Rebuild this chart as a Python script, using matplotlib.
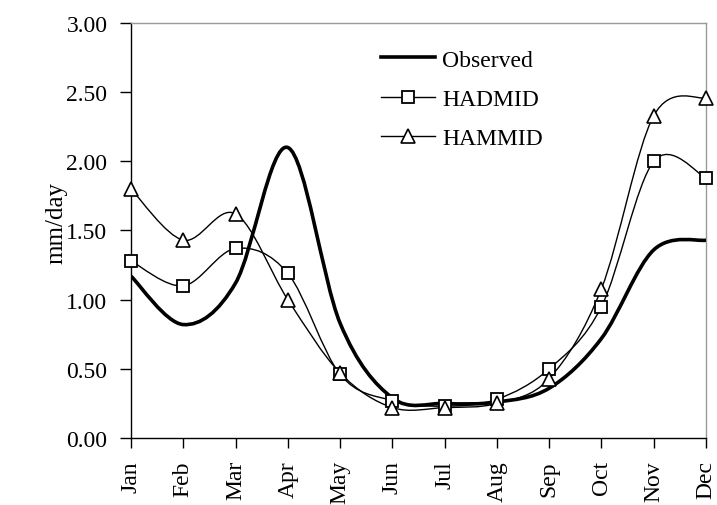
import numpy as np
from matplotlib import pyplot as plt
from matplotlib.path import Path
from matplotlib.patches import PathPatch
from matplotlib.lines import Line2D

months = ["Jan", "Feb", "Mar", "Apr", "May", "Jun",
          "Jul", "Aug", "Sep", "Oct", "Nov", "Dec"]
observed = [1.17, 0.82, 1.12, 2.10, 0.83, 0.29, 0.25, 0.26, 0.36, 0.72, 1.36, 1.43]
hadmid = [1.28, 1.10, 1.37, 1.19, 0.46, 0.27, 0.23, 0.28, 0.50, 0.95, 2.00, 1.88]
hammid = [1.80, 1.43, 1.62, 1.00, 0.47, 0.22, 0.22, 0.25, 0.43, 1.08, 2.33, 2.46]
yticks = [0.0, 0.5, 1.0, 1.5, 2.0, 2.5, 3.0]

plt.rcParams['font.family'] = ['Liberation Serif', 'DejaVu Serif']
FS = 17


def smooth_path(x, y):
    # bezier curve through the points, like a spreadsheet "smoothed line"
    p = np.column_stack([x, y]).astype(float)
    ext = np.vstack([p[0], p, p[-1]])
    verts = [p[0]]
    codes = [Path.MOVETO]
    for i in range(len(p) - 1):
        p0, p1, p2, p3 = ext[i], ext[i + 1], ext[i + 2], ext[i + 3]
        c1 = p1 + (p2 - p0) / 6.0
        c2 = p2 - (p3 - p1) / 6.0
        verts += [c1, c2, p2]
        codes += [Path.CURVE4] * 3
    return Path(verts, codes)


fig = plt.figure(figsize=(7.17, 5.06), dpi=100)
ax = fig.add_axes([0.1827, 0.1324, 0.802, 0.8202])
x = np.arange(len(months))

ax.add_patch(PathPatch(smooth_path(x, observed), fill=False, lw=2.6, ec='black',
                       joinstyle='round', zorder=3))
ax.add_patch(PathPatch(smooth_path(x, hadmid), fill=False, lw=1.0, ec='black', zorder=3))
ax.add_patch(PathPatch(smooth_path(x, hammid), fill=False, lw=1.0, ec='black', zorder=3))

ax.plot(x, hadmid, ls='none', marker='s', ms=9, mfc='white', mec='black', mew=1.3,
        zorder=4, clip_on=False)
ax.plot(x, hammid, ls='none', marker='^', ms=10, mfc='white', mec='black', mew=1.2,
        zorder=4, clip_on=False)

handles = [
    Line2D([], [], color='black', lw=2.6),
    Line2D([], [], color='black', lw=1.0, marker='s', ms=9, mfc='white', mew=1.3),
    Line2D([], [], color='black', lw=1.0, marker='^', ms=10, mfc='white', mew=1.2),
]
ax.legend(handles, ["Observed", "HADMID", "HAMMID"], loc='upper left',
          bbox_to_anchor=(0.418, 0.96), frameon=False, fontsize=FS,
          handlelength=2.3, handletextpad=0.3, labelspacing=0.75, borderaxespad=0)

ax.set_xlim(0, 11)
ax.set_ylim(0, 3)
ax.set_xticks(x)
ax.set_xticklabels(months, rotation=90, fontsize=FS)
ax.set_yticks(yticks)
ax.set_yticklabels([f"{v:.2f}" for v in yticks], fontsize=FS)
ax.set_ylabel("mm/day", fontsize=FS + 1)
ax.yaxis.set_label_coords(-0.11, 0.52)

ax.tick_params(axis='y', direction='out', length=8, width=1.0, color='black', pad=9)
ax.tick_params(axis='x', direction='out', length=7, width=1.0, color='black', pad=9)
for side in ('top', 'right'):
    ax.spines[side].set_color('#999999')
    ax.spines[side].set_linewidth(1.0)
for side in ('left', 'bottom'):
    ax.spines[side].set_color('black')
    ax.spines[side].set_linewidth(1.0)

fig.savefig("out.png", dpi=100)
